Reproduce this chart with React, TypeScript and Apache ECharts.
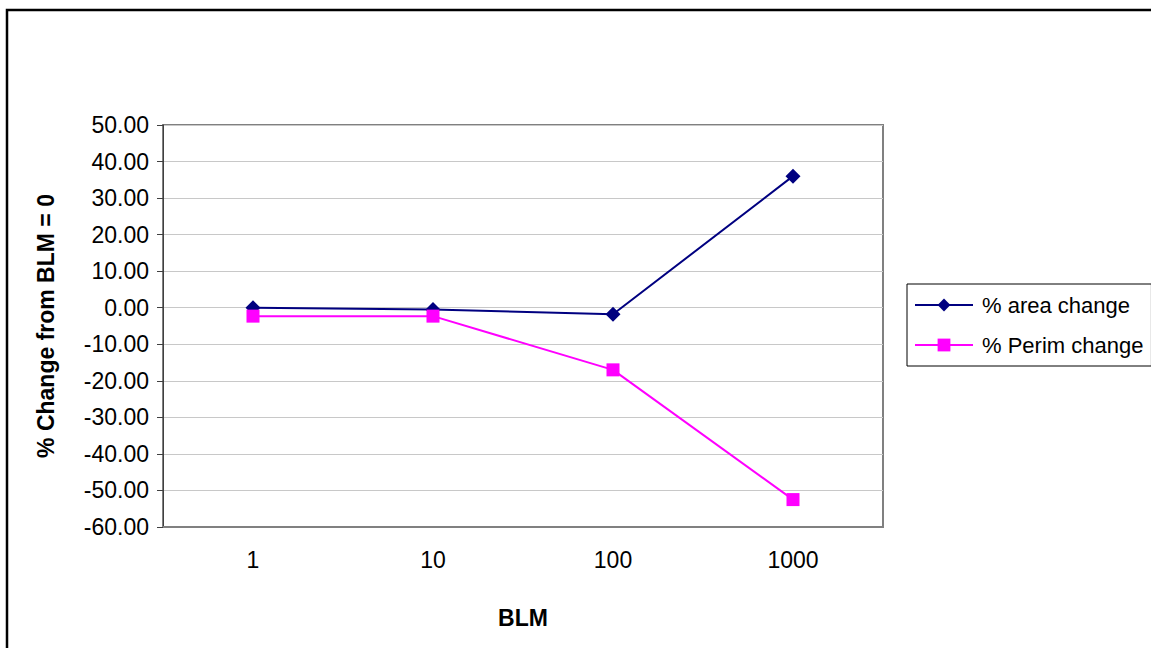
import React, { useEffect, useRef } from "react";
import * as echarts from "echarts";

const categories = ["1", "10", "100", "1000"];
const areaChange = [0.0, -0.5, -1.8, 36.0];
const perimChange = [-2.3, -2.3, -17.0, -52.5];
const seriesNames = ["% area change", "% Perim change"];
const xAxisTitle = "BLM";
const yAxisTitle = "% Change from BLM = 0";

export default function App() {
  const ref = useRef<HTMLDivElement>(null);
  useEffect(() => {
    if (!ref.current) return;
    const chart = echarts.init(ref.current, undefined, { renderer: "svg" });
    const font = "'Liberation Sans', Arial, sans-serif";
    chart.setOption({
      animation: false,
      backgroundColor: "#ffffff",
      textStyle: { fontFamily: font },
      graphic: [
        {
          type: "rect",
          shape: { x: 7, y: 10, width: 1300, height: 800 },
          style: { fill: "none", stroke: "#000000", lineWidth: 2.5 },
          silent: true,
        },
      ],
      grid: {
        left: 163,
        top: 125,
        width: 720,
        height: 402,
        show: true,
        borderColor: "#808080",
        borderWidth: 2,
        backgroundColor: "transparent",
      },
      legend: {
        orient: "vertical",
        left: 907,
        top: 284,
        padding: [9, 8, 9, 7],
        itemGap: 16,
        itemWidth: 58,
        itemHeight: 16,
        borderColor: "#000000",
        borderWidth: 1,
        textStyle: {
          fontFamily: font,
          fontSize: 22,
          color: "#000000",
          lineHeight: 24,
          padding: [0, 0, 0, 4],
        },
        data: seriesNames,
      },
      xAxis: {
        type: "category",
        data: categories,
        boundaryGap: true,
        name: xAxisTitle,
        nameLocation: "middle",
        nameGap: 79,
        nameTextStyle: { fontFamily: font, fontSize: 23, fontWeight: "bold", color: "#000" },
        axisLine: { show: true, onZero: false, lineStyle: { color: "#808080", width: 2 } },
        axisTick: { show: false },
        axisLabel: { fontFamily: font, fontSize: 23, color: "#000", margin: 21 },
        splitLine: { show: false },
      },
      yAxis: {
        type: "value",
        min: -60,
        max: 50,
        interval: 10,
        name: yAxisTitle,
        nameLocation: "middle",
        nameGap: 106,
        nameRotate: 90,
        nameTextStyle: { fontFamily: font, fontSize: 23, fontWeight: "bold", color: "#000" },
        axisLine: { show: true, lineStyle: { color: "#404040", width: 1 } },
        axisTick: { show: true, length: 6, inside: false, lineStyle: { color: "#404040" } },
        axisLabel: {
          fontFamily: font,
          fontSize: 23,
          color: "#000",
          margin: 14,
          formatter: (v: number) => v.toFixed(2),
        },
        splitLine: { show: true, lineStyle: { color: "#c8c8c8", width: 1 } },
      },
      series: [
        {
          name: seriesNames[0],
          type: "line",
          data: areaChange,
          color: "#000080",
          lineStyle: { color: "#000080", width: 2 },
          itemStyle: { color: "#000080" },
          symbol: "diamond",
          symbolSize: 15,
          z: 3,
        },
        {
          name: seriesNames[1],
          type: "line",
          data: perimChange,
          color: "#ff00ff",
          lineStyle: { color: "#ff00ff", width: 2 },
          itemStyle: { color: "#ff00ff" },
          symbol: "rect",
          symbolSize: 13,
          z: 4,
        },
      ],
    });
    return () => chart.dispose();
  }, []);
  return (
    <div
      ref={ref}
      style={{ position: "fixed", left: 0, top: 0, width: 1151, height: 648, background: "#fff" }}
    />
  );
}
